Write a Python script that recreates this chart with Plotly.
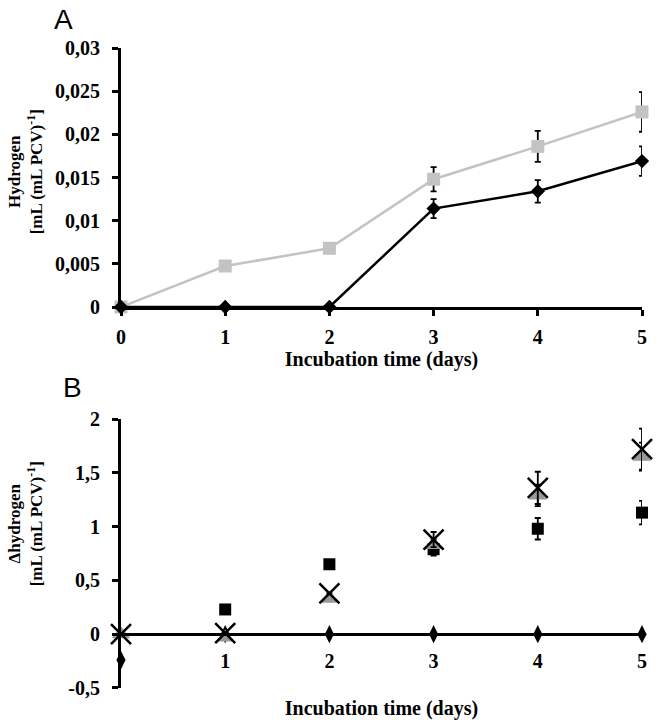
import plotly.graph_objects as go

# ---- data ----
days = [0, 1, 2, 3, 4, 5]
b_xticks = [1, 2, 3, 4, 5]

# panel A: hydrogen, mL (mL PCV)^-1
h2_gray = [0, 0.00475, 0.0068, 0.0148, 0.0186, 0.0226]
h2_gray_err = [0, 0, 0, 0.0014, 0.0018, 0.0023]
h2_black = [0, 0, 0, 0.0114, 0.0134, 0.0169]
h2_black_err = [0, 0, 0, 0.0011, 0.0013, 0.0017]

# panel B: delta hydrogen
dh_square = [None, 0.23, 0.65, 0.79, 0.98, 1.13]
dh_square_err = [0, 0, 0.04, 0.06, 0.10, 0.11]
dh_triangle = [0, -0.03, 0.33, 0.83, 1.29, 1.65]
dh_triangle_err = [0, 0, 0, 0.05, 0.10, 0.13]
dh_cross = [0, 0.01, 0.38, 0.88, 1.36, 1.72]
dh_cross_err = [0, 0, 0, 0.07, 0.15, 0.19]
dh_diamond = [-0.24, 0, 0, 0, 0, 0]

a_ticks = [0, 0.005, 0.01, 0.015, 0.02, 0.025, 0.03]
a_ticktext = ['0', '0,005', '0,01', '0,015', '0,02', '0,025', '0,03']
b_ticks = [-0.5, 0, 0.5, 1, 1.5, 2]
b_ticktext = ['-0,5', '0', '0,5', '1', '1,5', '2']

serif = 'Liberation Serif'
err_style = dict(type='data', color='black', thickness=1.8, width=3)

fig = go.Figure()

# ---- panel A ----
fig.add_trace(go.Scatter(
    x=days, y=h2_gray, mode='lines+markers', xaxis='x', yaxis='y',
    line=dict(color='#c3c3c3', width=2.5),
    marker=dict(symbol='square', size=13, color='#c3c3c3'),
    error_y=dict(array=h2_gray_err, **err_style),
    cliponaxis=False, showlegend=False
))
fig.add_trace(go.Scatter(
    x=days, y=h2_black, mode='lines+markers', xaxis='x', yaxis='y',
    line=dict(color='black', width=2.5),
    marker=dict(symbol='diamond', size=11, color='black'),
    error_y=dict(array=h2_black_err, **err_style),
    cliponaxis=False, showlegend=False
))

# ---- panel B ----
fig.add_trace(go.Scatter(
    x=days, y=dh_diamond, mode='markers', xaxis='x2', yaxis='y2',
    marker=dict(symbol='diamond-tall', size=13, color='black'),
    cliponaxis=False, showlegend=False
))
fig.add_trace(go.Scatter(
    x=days, y=dh_square, mode='markers', xaxis='x2', yaxis='y2',
    marker=dict(symbol='square', size=12, color='black'),
    error_y=dict(array=dh_square_err, **err_style),
    cliponaxis=False, showlegend=False
))
fig.add_trace(go.Scatter(
    x=days, y=dh_triangle, mode='markers', xaxis='x2', yaxis='y2',
    marker=dict(symbol='triangle-up', size=16, color='#999999'),
    error_y=dict(array=dh_triangle_err, **err_style),
    cliponaxis=False, showlegend=False
))
fig.add_trace(go.Scatter(
    x=days, y=dh_cross, mode='markers', xaxis='x2', yaxis='y2',
    marker=dict(symbol='x-thin', size=20, line=dict(color='black', width=2.5)),
    error_y=dict(array=dh_cross_err, **err_style),
    cliponaxis=False, showlegend=False
))

tickfont = dict(family=serif, size=20, color='black', weight='bold')
titlefont = dict(family=serif, size=20, color='black', weight='bold')
ytitlefont = dict(family=serif, size=17, color='black', weight='bold')
panelfont = dict(family='Liberation Sans', size=28, color='black')

fig.update_layout(
    width=660, height=727,
    margin=dict(l=121, r=18, t=48, b=39),
    plot_bgcolor='white', paper_bgcolor='white',
    xaxis=dict(
        domain=[0, 1], anchor='y', range=[0, 5],
        tickvals=days, ticks='outside', ticklen=6, tickwidth=3, tickcolor='black',
        showline=True, linecolor='black', linewidth=3,
        showgrid=False, zeroline=False,
        tickfont=tickfont, ticklabelstandoff=4,
        title=dict(text='Incubation time (days)', font=titlefont, standoff=0),
    ),
    yaxis=dict(
        domain=[0.5953, 1], anchor='x', range=[0, 0.03],
        tickvals=a_ticks, ticktext=a_ticktext,
        ticks='outside', ticklen=6, tickwidth=3, tickcolor='black',
        showline=True, linecolor='black', linewidth=3,
        showgrid=False, zeroline=False,
        tickfont=tickfont, ticklabelstandoff=8,
    ),
    xaxis2=dict(
        domain=[0, 1], anchor='free', position=0.0844, range=[0, 5],
        tickvals=b_xticks, ticks='',
        showline=True, linecolor='black', linewidth=3,
        showgrid=False, zeroline=False,
        tickfont=tickfont, ticklabelstandoff=8,
        title=dict(text='Incubation time (days)', font=titlefont, standoff=30),
    ),
    yaxis2=dict(
        domain=[0, 0.4203], anchor='x2', range=[-0.5, 2],
        tickvals=b_ticks, ticktext=b_ticktext,
        ticks='outside', ticklen=6, tickwidth=3, tickcolor='black',
        showline=True, linecolor='black', linewidth=3,
        showgrid=False, zeroline=False,
        tickfont=tickfont, ticklabelstandoff=8,
    ),
    annotations=[
        dict(text='A', x=-0.111, y=1.044, xref='paper', yref='paper',
             xanchor='center', yanchor='middle', showarrow=False, font=panelfont),
        dict(text='B', x=-0.094, y=0.469, xref='paper', yref='paper',
             xanchor='center', yanchor='middle', showarrow=False, font=panelfont),
        dict(text='Hydrogen<br>[mL (mL PCV)<sup>-1</sup>]', x=-0.184, y=0.806,
             xref='paper', yref='paper', xanchor='center', yanchor='middle',
             textangle=-90, showarrow=False, font=ytitlefont),
        dict(text='Δhydrogen<br>[mL (mL PCV)<sup>-1</sup>]', x=-0.184, y=0.256,
             xref='paper', yref='paper', xanchor='center', yanchor='middle',
             textangle=-90, showarrow=False, font=ytitlefont),
    ],
)

fig.write_html(
    "out.html",
    config={'displayModeBar': False},
    post_script="document.body.style.margin='0';document.body.style.overflow='hidden';",
)
